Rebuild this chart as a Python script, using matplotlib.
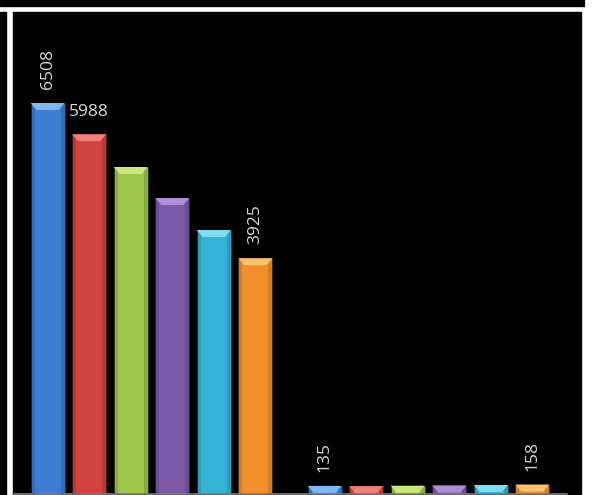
import numpy as np
import matplotlib
matplotlib.use("Agg")
from matplotlib import pyplot as plt
from matplotlib.patches import Rectangle, Polygon

# data
groups = ["Group 1", "Group 2"]
series_colors = ['#3c7dd4', '#d24340', '#9cc64a', '#7d58a8', '#35b3d6', '#f28f2c']
bevel_colors = ['#80b6f2', '#f07e7b', '#c9e77e', '#af90d8', '#80def4', '#fbc271']
values_g1 = [6508, 5988, 5443, 4927, 4394, 3925]
values_g2 = [135, 132, 138, 142, 150, 158]
# labels shown: (group, series, rotation)
shown_labels = [(0, 0, 90), (0, 1, 0), (0, 5, 90), (1, 0, 90), (1, 5, 90)]

W, H = 592, 495
fig = plt.figure(figsize=(W / 100, H / 100), dpi=100)
fig.patch.set_facecolor('white')


def px_rect(x0, y0, x1, y1, color):
    # rectangle in pixel coords (top-left origin)
    fig.add_artist(Rectangle((x0 / W, 1 - y1 / H), (x1 - x0) / W, (y1 - y0) / H,
                             transform=fig.transFigure, color=color, zorder=0))


px_rect(0, 0, 584, 6, 'black')
px_rect(0, 12, 6, H, 'black')
px_rect(13, 12, 581, H, 'black')

ax_l, ax_r, ax_t, ax_b = 13, 567, 12, 494
ax = fig.add_axes([ax_l / W, 1 - ax_b / H, (ax_r - ax_l) / W, (ax_b - ax_t) / H])
ax.set_facecolor('black')
ax.set_xlim(-0.5, 1.5)
ax.set_ylim(0, 8023)

pitch = 0.150
width = 0.123
px_x = (ax_r - ax_l) / 2.0   # pixels per category unit
px_y = (ax_b - ax_t) / 8023.0
inset = 6 / px_x
depth = 7 / px_y

all_vals = [values_g1, values_g2]
for g, vals in enumerate(all_vals):
    for i, v in enumerate(vals):
        xc = g + (i - 2.5) * pitch
        x0, x1 = xc - width / 2, xc + width / 2
        ax.bar(xc, v, width=width, color=series_colors[i], edgecolor='#1a1a1a',
               linewidth=0.4, zorder=2)
        # darker side shading
        for xs in (x0, x1 - width * 0.12):
            ax.add_patch(Rectangle((xs, 0), width * 0.12, v, color='black',
                                   alpha=0.12, lw=0, zorder=3))
        d = min(depth, v)
        ax.add_patch(Polygon([(x0, v), (x1, v), (x1 - inset, v - d), (x0 + inset, v - d)],
                             closed=True, facecolor=bevel_colors[i], edgecolor='none',
                             zorder=4))

for g, i, rot in shown_labels:
    v = all_vals[g][i]
    xc = g + (i - 2.5) * pitch
    ax.annotate(str(v), (xc, v), xytext=(0, 10), textcoords='offset points',
                ha='center', va='bottom', rotation=rot, color='#d9d9d9',
                fontsize=12.5, family=['Open Sans', 'DejaVu Sans'], zorder=5)

ax.set_xticks([])
ax.set_yticks([])
for s in ['top', 'left', 'right']:
    ax.spines[s].set_visible(False)
ax.spines['bottom'].set_color('#7f7f7f')
ax.spines['bottom'].set_linewidth(1.2)

fig.savefig('out.png', dpi=100, facecolor=fig.get_facecolor())
